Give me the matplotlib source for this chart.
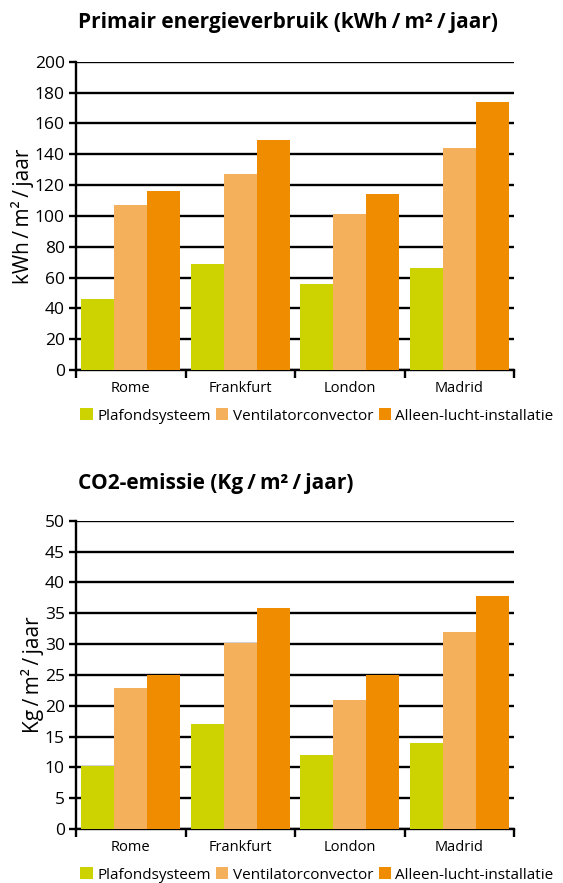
import matplotlib
matplotlib.use('Agg')
import matplotlib.pyplot as plt
import numpy as np

plt.rcParams['font.family'] = ['Open Sans', 'DejaVu Sans']

# data
cities = ['Rome', 'Frankfurt', 'London', 'Madrid']
series = ['Plafondsysteem', 'Ventilatorconvector', 'Alleen-lucht-installatie']
energy_plafond = [46, 69, 56, 66]
energy_ventilator = [107, 127, 101, 144]
energy_lucht = [116, 149, 114, 174]
co2_plafond = [10.2, 17, 12, 14]
co2_ventilator = [22.8, 30.2, 20.9, 32]
co2_lucht = [25, 35.8, 25, 37.8]
colors = ['#CCD300', '#F5B05B', '#F08C00']

ts = '\u2009'  # thin space round the slashes


def bar_panel(ax, vals, ymax, ystep, ylabel):
    x = np.arange(len(cities))
    w = 0.3
    for i, (v, c, name) in enumerate(zip(vals, colors, series)):
        ax.bar(x + (i - 1) * w, v, w, color=c, label=name, zorder=3)
    ax.set_xlim(-0.5, len(cities) - 0.5)
    ax.set_ylim(0, ymax)
    ax.set_yticks(np.arange(0, ymax + ystep / 2, ystep))
    ax.yaxis.grid(True, color='black', linewidth=1.7, zorder=1)
    ax.set_axisbelow(True)
    ax.set_xticks(np.arange(-0.5, len(cities), 1))
    ax.set_xticklabels([])
    ax.set_xticks(x, minor=True)
    ax.set_xticklabels(cities, minor=True)
    ax.tick_params(axis='x', which='minor', length=0, labelsize=10.5, pad=8)
    ax.tick_params(axis='x', which='major', length=6, width=1.7, direction='out')
    ax.tick_params(axis='y', length=5, width=1.7, labelsize=12.5, pad=3)
    for s in ['top', 'right']:
        ax.spines[s].set_visible(False)
    for s in ['left', 'bottom']:
        ax.spines[s].set_linewidth(1.7)
    ax.set_ylabel(ylabel, fontsize=15, labelpad=1)
    ax.legend(loc='upper left', bbox_to_anchor=(0.01, -0.125), ncol=3, frameon=False,
              fontsize=11, handlelength=0.8, handleheight=0.8, handletextpad=0.3,
              columnspacing=0.35, borderaxespad=0, borderpad=0)


fig = plt.figure(figsize=(5.63, 8.83), dpi=100)
ax1 = fig.add_axes([0.135, 0.581, 0.778, 0.349])
ax2 = fig.add_axes([0.135, 0.0612, 0.778, 0.349])

bar_panel(ax1, [energy_plafond, energy_ventilator, energy_lucht], 200, 20,
          f'kWh{ts}/{ts}m²{ts}/{ts}jaar')
bar_panel(ax2, [co2_plafond, co2_ventilator, co2_lucht], 50, 5,
          f'Kg{ts}/{ts}m²{ts}/{ts}jaar')

fig.text(0.139, 0.974, f'Primair energieverbruik (kWh{ts}/{ts}m²{ts}/{ts}jaar)',
         fontsize=15, fontweight='bold', va='center', ha='left')
fig.text(0.139, 0.453, f'CO2-emissie (Kg{ts}/{ts}m²{ts}/{ts}jaar)', fontsize=15,
         fontweight='bold', va='center', ha='left')

fig.savefig('out.png', dpi=100)
